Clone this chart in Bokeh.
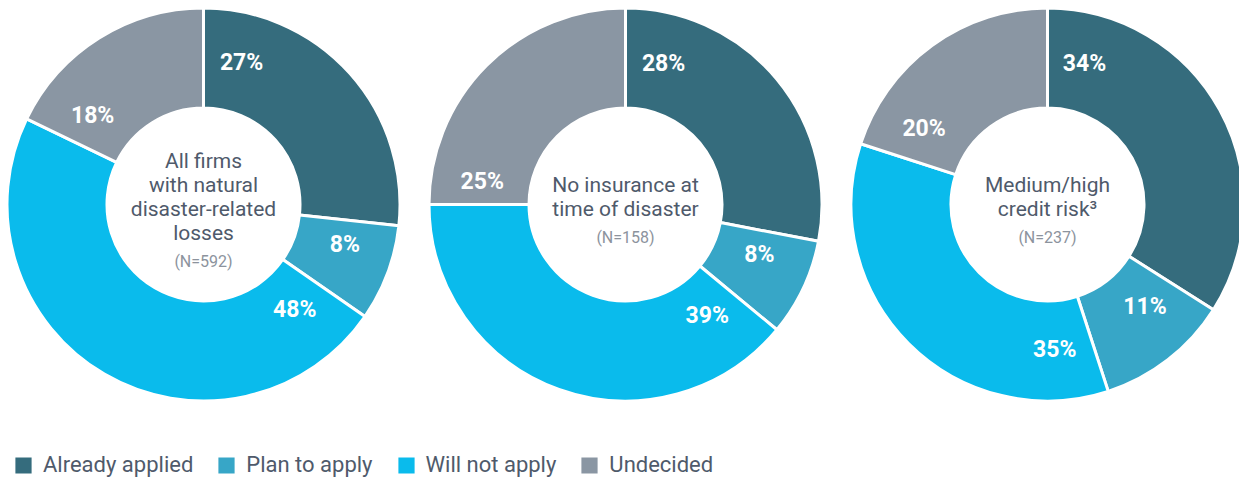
import math
from bokeh.plotting import figure
from bokeh.models import ColumnDataSource, Range1d, Legend, LegendItem
from bokeh.core.properties import value
from bokeh.embed import file_html
from bokeh.resources import INLINE

# ---------------- data ----------------
categories = ["Already applied", "Plan to apply", "Will not apply", "Undecided"]
all_firms = [27, 8, 48, 18]
no_insurance = [28, 8, 39, 25]
credit_risk = [34, 11, 35, 20]
titles = ["All firms\nwith natural\ndisaster-related\nlosses",
          "No insurance at\ntime of disaster",
          "Medium/high\ncredit risk\u00b3"]
sample_sizes = ["(N=592)", "(N=158)", "(N=237)"]

# ---------------- style / layout ----------------
colors = ["#356c7d", "#37a6c7", "#0abbec", "#8a96a3"]
W, H = 1239, 480
centers_x = [203, 625, 1047]
center_y_screen = 204
R_OUT, R_IN = 196.5, 96.5
# where each label sits inside its slice (fraction of slice sweep) and radius
label_frac = [[0.156, 0.34, 0.083, 0.2],
              [0.15, 0.34, 0.1, 0.1],
              [0.12, 0.35, 0.12, 0.19]]
label_r = [[147, 147, 139, 142],
           [146, 143, 138, 145],
           [146, 141, 145, 145]]

p = figure(width=W, height=H, x_range=Range1d(0, W), y_range=Range1d(0, H),
           output_backend="svg", toolbar_location=None, min_border=0,
           outline_line_color=None, background_fill_color="white")
p.axis.visible = False
p.grid.visible = False

cy = H - center_y_screen
series = [all_firms, no_insurance, credit_risk]
first_renderer = None
for k, vals in enumerate(series):
    total = float(sum(vals))
    cx = centers_x[k]
    starts, ends, lx, ly, txt = [], [], [], [], []
    acc = 0.0
    for i, v in enumerate(vals):
        t0 = acc / total * 2 * math.pi
        acc += v
        t1 = acc / total * 2 * math.pi
        starts.append(math.pi / 2 - t0)
        ends.append(math.pi / 2 - t1)
        tl = t0 + label_frac[k][i] * (t1 - t0)
        r = label_r[k][i]
        lx.append(cx + r * math.sin(tl))
        ly.append(cy + r * math.cos(tl))
        txt.append(f"{v}%")
    src = ColumnDataSource(dict(x=[cx] * len(vals), y=[cy] * len(vals),
                                start=starts, end=ends, color=colors,
                                cat=categories))
    rr = p.annular_wedge(x="x", y="y", inner_radius=R_IN, outer_radius=R_OUT,
                         start_angle="start", end_angle="end", direction="clock",
                         fill_color="color", line_color="white", line_width=3,
                         source=src)
    if first_renderer is None:
        first_renderer = rr
    p.text(x=lx, y=ly, text=txt, text_align="center", text_baseline="middle",
           text_color="white", text_font=value("Roboto"), text_font_style="bold",
           text_font_size="23px")

    # centre text
    lines = titles[k].split("\n")
    n = len(lines)
    first = -20 - 12 * (n - 2)
    ys = [cy - (first + 24 * j) for j in range(n)]
    p.text(x=[cx] * n, y=ys, text=lines, text_align="center", text_baseline="middle",
           text_color="#4f5a6b", text_font=value("Roboto"), text_font_size="21px")
    last = first + 24 * (n - 1)
    p.text(x=[cx], y=[cy - (last + 29)], text=[sample_sizes[k]], text_align="center",
           text_baseline="middle", text_color="#8c939d", text_font=value("Roboto"),
           text_font_size="16px")

items = [LegendItem(label=c, renderers=[first_renderer], index=i)
         for i, c in enumerate(categories)]
legend = Legend(items=items, orientation="horizontal", location=(11, 3),
                border_line_color=None, background_fill_alpha=0, padding=0, margin=0,
                spacing=21, label_standoff=8, glyph_width=24, glyph_height=24,
                label_height=24, label_text_font="Roboto", label_text_font_size="22px",
                label_text_color="#4f5a6b", label_text_baseline="middle")
p.add_layout(legend)

open("out.html", "w").write(file_html(p, INLINE))
